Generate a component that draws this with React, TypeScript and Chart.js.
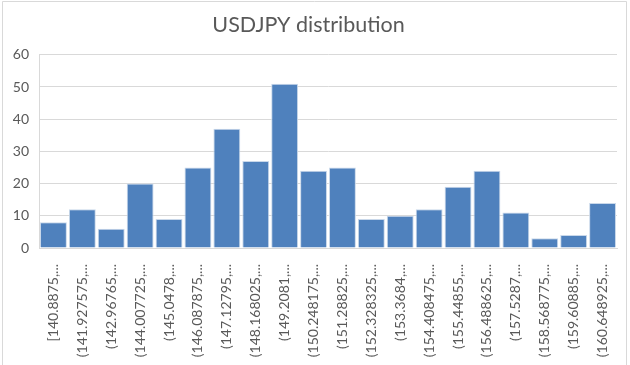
import React, { useEffect, useRef } from "react";
import { Chart, registerables } from "chart.js";

Chart.register(...registerables);

const title = "USDJPY distribution";
const categories = [
  "[140.8875,...",
  "(141.927575,...",
  "(142.96765,...",
  "(144.007725,...",
  "(145.0478,...",
  "(146.087875,...",
  "(147.12795,...",
  "(148.168025,...",
  "(149.2081,...",
  "(150.248175,...",
  "(151.28825,...",
  "(152.328325,...",
  "(153.3684,...",
  "(154.408475,...",
  "(155.44855,...",
  "(156.488625,...",
  "(157.5287,...",
  "(158.568775,...",
  "(159.60885,...",
  "(160.648925,...",
];
const counts = [8, 12, 6, 20, 9, 25, 37, 27, 51, 24, 25, 9, 10, 12, 19, 24, 11, 3, 4, 14];
const yMin = 0;
const yMax = 60;
const yStep = 10;

const FONT = "Lato, 'Liberation Sans', sans-serif";
const TEXT = "#595959";
const GRID = "#d9d9d9";

const frame = {
  id: "frame",
  beforeDraw(chart: any) {
    const ctx = chart.ctx;
    ctx.save();
    ctx.fillStyle = "#ffffff";
    ctx.fillRect(0, 0, chart.width, chart.height);
    ctx.strokeStyle = GRID;
    ctx.lineWidth = 1;
    ctx.beginPath();
    ctx.moveTo(2.5, chart.height);
    ctx.lineTo(2.5, 1.5);
    ctx.lineTo(626.5, 1.5);
    ctx.lineTo(626.5, chart.height);
    ctx.stroke();
    ctx.restore();
  },
};

export default function App() {
  const ref = useRef<HTMLCanvasElement | null>(null);
  useEffect(() => {
    if (!ref.current) return;
    const chart = new Chart(ref.current, {
      type: "bar",
      data: {
        labels: categories,
        datasets: [
          {
            data: counts,
            backgroundColor: "#4f81bd",
            borderColor: "#c9d8ea",
            borderWidth: 1,
            barPercentage: 0.93,
            categoryPercentage: 1,
          },
        ],
      },
      options: {
        animation: false,
        responsive: false,
        maintainAspectRatio: false,
        layout: { padding: { left: 0, right: 13, top: 0, bottom: 0 } },
        plugins: {
          legend: { display: false },
          tooltip: { enabled: false },
          title: {
            display: true,
            text: title,
            color: TEXT,
            font: { family: FONT, size: 21.5, weight: "normal" },
            padding: { top: 12, bottom: 17 },
          },
        },
        scales: {
          x: {
            grid: { display: false, drawTicks: false },
            border: { display: true, color: GRID },
            ticks: {
              autoSkip: false,
              minRotation: 90,
              maxRotation: 90,
              padding: 16,
              color: TEXT,
              font: { family: FONT, size: 14 },
            },
            afterFit: (s: any) => {
              s.height = 117;
              s.paddingLeft = 0;
              s.paddingRight = 0;
            },
          },
          y: {
            min: yMin,
            max: yMax,
            grid: { color: GRID, drawTicks: false },
            border: { display: true, color: GRID },
            ticks: {
              stepSize: yStep,
              padding: 10,
              color: TEXT,
              font: { family: FONT, size: 14 },
            },
            afterFit: (s: any) => {
              s.width = 39;
            },
          },
        },
      },
      plugins: [frame],
    });
    return () => chart.destroy();
  }, []);
  return (
    <div style={{ position: "fixed", left: 0, top: 0, width: 630, height: 365, background: "#fff" }}>
      <canvas ref={ref} width={630} height={365} style={{ display: "block" }} />
    </div>
  );
}
